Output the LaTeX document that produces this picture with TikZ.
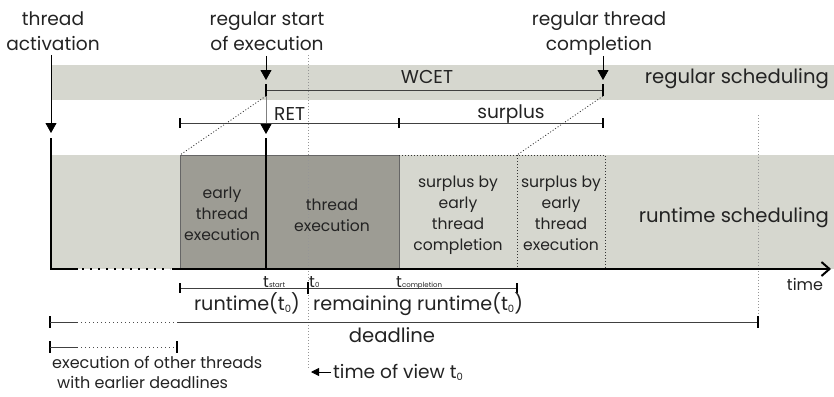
\documentclass[tikz,border=0pt]{standalone}
\usepackage{fontspec}
\setmainfont{Poppins}
\usetikzlibrary{arrows.meta}
\definecolor{bandgray}{RGB}{214,215,207}
\definecolor{execgray}{RGB}{157,156,148}
\definecolor{inkgray}{RGB}{35,35,35}
\definecolor{viewgray}{RGB}{150,150,150}
\newcommand\lblfont{\fontsize{18.6}{25}\selectfont}
\newcommand\bandfont{\fontsize{19.6}{25}\selectfont}
\newcommand\rowfont{\fontsize{19.2}{25}\selectfont}
\newcommand\boxfont{\fontsize{15.6}{21}\selectfont}
\newcommand\notefont{\fontsize{16}{20}\selectfont}
\newcommand\subfont{\fontsize{7}{8}\selectfont}
\newcommand\zerosub{\raisebox{-2pt}{\fontsize{10}{10}\selectfont 0}}
\begin{document}
\begin{tikzpicture}[x=1pt,y=-1pt,
  lbl/.style={inner sep=0pt, text=inkgray, font=\lblfont},
  mlbl/.style={lbl, align=center, anchor=north},
  bandlbl/.style={inner sep=0pt, text=inkgray, font=\bandfont, anchor=base east},
  rowlbl/.style={inner sep=0pt, text=inkgray, font=\rowfont},
  boxlbl/.style={inner sep=0pt, text=inkgray, font=\boxfont, align=center, anchor=north},
  note/.style={inner sep=0pt, text=inkgray, font=\notefont},
  heavy/.style={line width=2pt},
  bar/.style={line width=1pt, black!75},
  tickmark/.style={line width=2pt},
  gapdots/.style={line width=2pt, dash pattern=on 2pt off 6pt},
  finedots/.style={line width=1pt, black!70, dash pattern=on 1pt off 3pt},
  pointer/.style={line width=0.8pt, -{Triangle[length=10pt,width=11pt]}},
  edge/.style={line width=0.8pt, black!80, dash pattern=on 1pt off 2pt},
  guide/.style={viewgray, line width=0.8pt, dash pattern=on 1pt off 2pt},
]
\useasboundingbox (0,0) rectangle (834,396);

% scheduling bands
\fill[bandgray] (52,65) rectangle (834,100);
\fill[bandgray] (51,155) rectangle (834,269);

% executed part of the thread
\filldraw[fill=execgray, draw=black!60, line width=0.8pt]
  (180,269) -- (180,155) -- (399,155) -- (399,269);
% surplus areas
\draw[edge] (399,155) -- (605,155) -- (605,269);
\draw[edge] (517,155) -- (517,269);

% key points
\coordinate (actTop) at (51,138);
\coordinate (actBot) at (51,270);
\coordinate (actTip) at (51,133);
\coordinate (startTop) at (266,138);
\coordinate (startBot) at (266,270);
\coordinate (startTip) at (266,80);
\coordinate (wcetA) at (266,90);
\coordinate (wcetB) at (603,90);
\coordinate (wcetAu) at (266,84);
\coordinate (wcetAd) at (266,96);
\coordinate (wcetBu) at (603,84);
\coordinate (wcetBd) at (603,96);
\coordinate (complTip) at (603,80);
\coordinate (runTip) at (266,134);
\coordinate (earlyCorner) at (180,155);
\coordinate (surplusCorner) at (517,155);

% guide lines for t0 and the deadline
\draw[guide] (308,55) -- (308,368);
\draw[guide] (758,115) -- (758,318);

% time axis
\coordinate (ax0) at (51,269);
\coordinate (ax1) at (78,269);
\coordinate (ax2) at (82,269);
\coordinate (ax3) at (170,269);
\coordinate (ax4) at (172,269);
\coordinate (ax5) at (831,269);
\draw[heavy] (ax0) -- (ax1);
\draw[gapdots] (ax2) -- (ax3);
\draw[heavy, -{Straight Barb[length=8pt,width=14pt]}] (ax4) -- (ax5);

% thread activation and start lines
\draw[heavy] (actTop) -- (actBot);
\draw[heavy] (startTop) -- (startBot);

% labels on top
\node[mlbl] (lblAct) at (53,7.5) {\strut thread\\activation};
\node[mlbl] (lblStart) at (267,7.5) {\strut regular start\\of execution};
\node[mlbl] (lblCompl) at (599,7.5) {\strut regular thread\\completion};
\coordinate (actFrom) at (51,55);
\coordinate (startFrom) at (266,56);
\coordinate (complFrom) at (603,56);
\draw[pointer] (actFrom) -- (actTip);
\draw[pointer] (startFrom) -- (startTip);
\draw[pointer] (complFrom) -- (complTip);

% WCET bar
\draw[bar] (wcetA) -- (wcetB);
\draw[tickmark] (wcetAu) -- (wcetAd);
\draw[tickmark] (wcetBu) -- (wcetBd);
\draw[line width=0.8pt, black!50, -{Triangle[length=10pt,width=11pt,black]}] (wcetAd) -- (runTip);
\node[lbl, anchor=base] (lblWCET) at (427,83) {WCET};
\node[bandlbl] (lblRegular) at (829,83) {regular scheduling};

% RET / surplus bar
\coordinate (retA) at (180,123);
\coordinate (retB) at (399,123);
\coordinate (retC) at (603,123);
\draw[bar] (retA) -- (retC);
\foreach \p in {retA,retB,retC} \draw[tickmark] (\p) ++(0,-5) -- ++(0,10);
\node[lbl, anchor=base west] (lblRET) at (274,120) {RET};
\node[lbl, anchor=base] (lblSurplus) at (511,118) {surplus};

% dotted projections from regular to runtime schedule
\draw[edge] (wcetAd) -- (earlyCorner);
\draw[edge] (wcetBd) -- (surplusCorner);

% box texts
\node[boxlbl] (lblEarly) at (222,183.3) {\strut early\\thread\\execution};
\node[boxlbl] (lblExec) at (332,195.3) {\strut thread\\execution};
\node[boxlbl] (lblSurC) at (458,172.3) {\strut surplus by\\early\\thread\\completion};
\node[boxlbl] (lblSurE) at (561,172.3) {\strut surplus by\\early\\thread\\execution};
\node[bandlbl] (lblRuntime) at (829,222) {runtime scheduling};
\node[note, anchor=base] (lblTime) at (805,290) {time};

% instants on the axis
\node[note, anchor=base west] (tStart) at (263,287) {t{\subfont start}};
\node[note, anchor=base west] (tZero) at (309,287) {t{\subfont 0}};
\node[note, anchor=base west] (tCompl) at (396,287) {t{\subfont completion}};

% runtime bar
\coordinate (rtA) at (180,288);
\coordinate (rtB) at (308,288);
\coordinate (rtC) at (517,288);
\draw[bar] (rtA) -- (rtC);
\draw[line width=1.5pt] (rtA) ++(0,-5) -- ++(0,10);
\draw[tickmark] (rtB) ++(0,-6) -- ++(0,12);
\draw[tickmark] (rtC) ++(0,-5) -- ++(0,10);
\node[rowlbl, anchor=base] (lblRt) at (247,310) {runtime(t\zerosub)};
\node[rowlbl, anchor=base west] (lblRem) at (313,310) {remaining runtime(t\zerosub)};

% deadline bar
\coordinate (dlA) at (50,322);
\coordinate (dlB) at (78,322);
\coordinate (dlC) at (81,322);
\coordinate (dlD) at (175,322);
\coordinate (dlE) at (177,322);
\coordinate (dlF) at (758,322);
\draw[tickmark] (dlA) ++(0,-6) -- ++(0,12);
\draw[bar] (dlA) -- (dlB);
\draw[finedots] (dlC) -- (dlD);
\draw[bar] (dlE) -- (dlF);
\draw[tickmark] (dlF) ++(0,-6) -- ++(0,12);
\node[bandlbl, anchor=base] (lblDl) at (392,342) {deadline};

% other threads bar
\coordinate (otA) at (50,347);
\coordinate (otB) at (78,347);
\coordinate (otC) at (81,347);
\coordinate (otD) at (175,347);
\coordinate (otE) at (177,347);
\draw[tickmark] (otA) ++(0,-6) -- ++(0,12);
\draw[bar] (otA) -- (otB);
\draw[finedots] (otC) -- (otD);
\draw[tickmark] (otE) ++(0,-6) -- ++(0,12);
\node[note, anchor=north west, align=left] (lblOther) at (52,354)
  {\strut execution of other threads\\\hspace*{5pt}with earlier deadlines};

% time of view
\node[lbl, anchor=base west] (lblView) at (333,378) {time of view t\zerosub};
\coordinate (viewTip) at (311,372);
\coordinate (viewFrom) at (331,372);
\draw[line width=0.8pt, -{Triangle[length=8pt,width=8pt]}] (viewFrom) -- (viewTip);
\end{tikzpicture}
\end{document}
